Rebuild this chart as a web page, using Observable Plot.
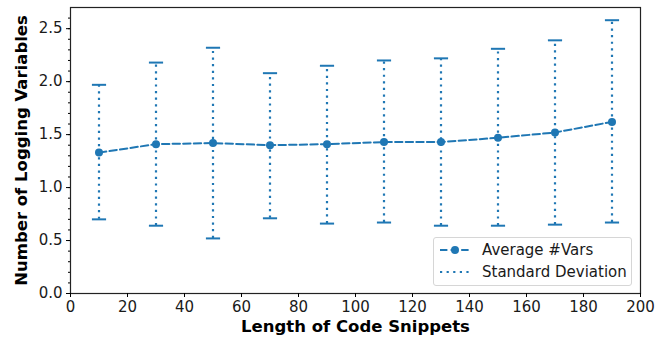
<!DOCTYPE html>
<html><head><meta charset="utf-8">
<script src="https://cdn.jsdelivr.net/npm/d3@7"></script>
<script src="https://cdn.jsdelivr.net/npm/@observablehq/plot@0.6"></script>
<style>
body{margin:0;background:#fff;}
#wrap{position:relative;width:663px;height:341px;font-family:"DejaVu Sans",sans-serif;}
#legend{position:absolute;left:433px;top:237px;width:199px;height:49px;border:1px solid #d6d6d6;border-radius:3px;background:rgba(255,255,255,0.85);box-sizing:border-box;font-size:15px;color:#1a1a1a;}
.lrow{position:absolute;left:6px;display:flex;align-items:center;height:18px;}
.lrow span{margin-left:12px;line-height:18px;}
</style>
</head><body>
<div id="wrap"></div>
<script>
const lengths = [10, 30, 50, 70, 90, 110, 130, 150, 170, 190];
const avgVars = [1.33, 1.41, 1.42, 1.40, 1.41, 1.43, 1.43, 1.47, 1.52, 1.62];
const upper = [1.97, 2.18, 2.32, 2.08, 2.15, 2.20, 2.22, 2.31, 2.39, 2.58];
const lower = [0.70, 0.64, 0.52, 0.71, 0.66, 0.67, 0.64, 0.64, 0.65, 0.67];
const yMajor = [0, 0.5, 1.0, 1.5, 2.0, 2.5];
const xTicks = [0, 20, 40, 60, 80, 100, 120, 140, 160, 180, 200];
const seriesNames = ["Average #Vars", "Standard Deviation"];
const xLabel = "Length of Code Snippets";
const yLabel = "Number of Logging Variables";

const C = "#1f77b4";
const data = lengths.map((x, i) => ({x, mean: avgVars[i], hi: upper[i], lo: lower[i]}));
const capSymbol = {draw(ctx, size){ const w = Math.sqrt(size); ctx.moveTo(-w, 0); ctx.lineTo(w, 0); }};

const chart = Plot.plot({
  width: 663, height: 341,
  marginLeft: 70, marginRight: 23, marginTop: 7, marginBottom: 48,
  style: {fontFamily: "DejaVu Sans", fontSize: "15px", color: "#1a1a1a", background: "white"},
  x: {domain: [0, 200]},
  y: {domain: [0, 2.7]},
  marks: [
    Plot.ruleX(data, {x: "x", y1: "lo", y2: "hi", stroke: C, strokeWidth: 2.2, strokeDasharray: "2.2,4.4"}),
    Plot.dot(data, {x: "x", y: "hi", symbol: capSymbol, r: 4, stroke: C, strokeWidth: 2, fill: "none"}),
    Plot.dot(data, {x: "x", y: "lo", symbol: capSymbol, r: 4, stroke: C, strokeWidth: 2, fill: "none"}),
    Plot.line(data, {x: "x", y: "mean", stroke: C, strokeWidth: 2, strokeDasharray: "7.4,3.2"}),
    Plot.dot(data, {x: "x", y: "mean", r: 4, fill: C}),
    Plot.frame({stroke: "#222", strokeWidth: 1.2}),
    Plot.axisX({ticks: xTicks, tickSize: 4, tickPadding: 4, label: null, stroke: "black"}),
    Plot.axisY({ticks: yMajor, tickSize: 4, tickPadding: 4, tickFormat: d3.format(".1f"), label: null, stroke: "black"}),
    Plot.axisY({ticks: d3.range(0, 27).map(d => d / 10), tickSize: 2, tickFormat: () => "", label: null, stroke: "black"}),
    Plot.text([xLabel], {frameAnchor: "bottom", dy: 38, fontWeight: "bold", fontSize: 16.5, fill: "black"}),
    Plot.text([yLabel], {frameAnchor: "left", rotate: -90, dx: -49, textAnchor: "middle", fontWeight: "bold", fontSize: 16.5, fill: "black"})
  ]
});
const wrap = document.getElementById("wrap");
wrap.appendChild(chart);

const legend = document.createElement("div");
legend.id = "legend";
legend.innerHTML = `
<div class="lrow" style="top:3px"><svg width="30" height="16"><line x1="0" y1="8" x2="30" y2="8" stroke="${C}" stroke-width="2" stroke-dasharray="7.4,3.2"/><circle cx="15" cy="8" r="4" fill="${C}"/></svg><span>${seriesNames[0]}</span></div>
<div class="lrow" style="top:25px"><svg width="30" height="16"><line x1="0" y1="8" x2="30" y2="8" stroke="${C}" stroke-width="2.2" stroke-dasharray="2.2,4.4"/></svg><span>${seriesNames[1]}</span></div>`;
wrap.appendChild(legend);
</script>
</body></html>
